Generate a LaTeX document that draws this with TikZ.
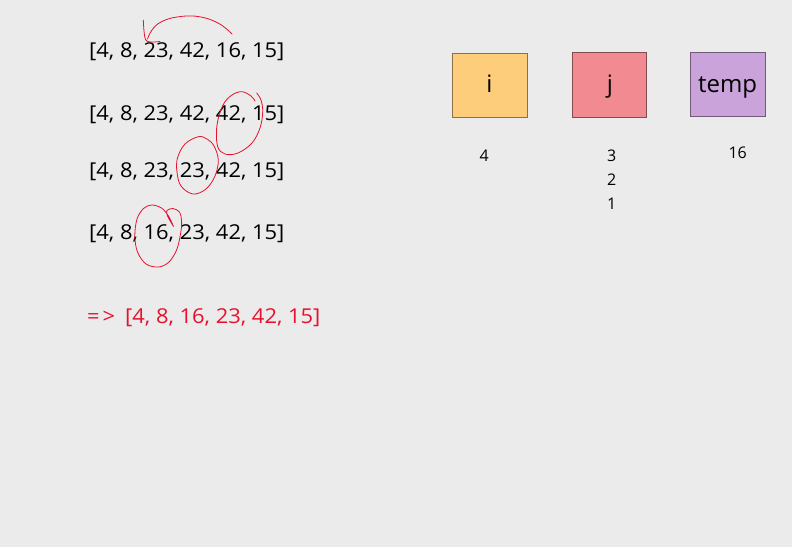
\documentclass[tikz,border=0pt]{standalone}
\usepackage{fontspec}
\setmainfont{Open Sans}
\newfontfamily\arrfont[FakeStretch=1.07]{Open Sans}
\definecolor{bg}{HTML}{EBEBEB}
\definecolor{mark}{HTML}{E8112D}
\definecolor{ifill}{HTML}{FDCD7C}
\definecolor{jfill}{HTML}{F28A92}
\definecolor{tfill}{HTML}{C9A3D9}
\tikzset{
  arr/.style={anchor=base west, inner sep=0pt, font=\arrfont\fontsize{20.5}{24}\selectfont},
  var/.style={draw=#1!55!black, fill=#1, line width=0.6pt},
  lbl/.style={anchor=base, inner sep=0pt, font=\fontsize{24}{28}\selectfont},
  val/.style={anchor=base, inner sep=0pt, font=\fontsize{16}{19}\selectfont},
  pen/.style={draw=mark, line width=0.8pt, line cap=round, line join=round}
}
\begin{document}
\begin{tikzpicture}[x=1pt,y=-1pt]
\fill[bg] (0,0) rectangle (792,547);
\useasboundingbox (0,0) rectangle (792,547);

% arrays
\node[arr] (a1) at (89,57) {[4, 8, 23, 42, 16, 15]};
\node[arr] (a2) at (89,120) {[4, 8, 23, 42, 42, 15]};
\node[arr] (a3) at (89,177) {[4, 8, 23, 23, 42, 15]};
\node[arr] (a4) at (89,239) {[4, 8, 16, 23, 42, 15]};
\node[arr, text=mark] (res) at (87,323) {=\kern3pt>};
\node[arr, text=mark] (res2) at (125,323) {[4, 8, 16, 23, 42, 15]};

% variable boxes
\path[var=ifill] (452.7,53.3) rectangle (527.3,117.7);
\path[var=jfill] (572.3,52.7) rectangle (646.7,117.3);
\path[var=tfill] (690.3,52) rectangle (765,116.3);
\node[lbl] (li) at (489.5,92) {i};
\node[lbl] (lj) at (610,92) {j};
\node[lbl] (lt) at (727.6,92) {temp};

% values
\node[val] (v4) at (484.3,161.7) {4};
\node[val] (v3) at (611.7,161.7) {3};
\node[val] (v2) at (611.7,185.7) {2};
\node[val] (v1) at (611.7,209.3) {1};
\node[val] (v16) at (737.7,158.3) {16};

% red hand strokes
\draw[pen] plot[smooth, tension=0.7] coordinates {(232,34) (218,23) (198,16.5) (177,17) (161,22) (152,30) (147.5,39)};
\draw[pen] plot[smooth, tension=0.6] coordinates {(143.3,20) (144,31) (145.5,39.5) (150,42) (160,41.5)};

\draw[pen] plot[smooth, tension=0.6] coordinates {(256.7,93) (261,100) (262.7,112) (260,128) (252,143) (238,153) (225,154) (217.5,146) (217,125) (223,105) (232,95) (242,91.7) (251,96) (255,101)};

\draw[pen] plot[smooth cycle, tension=0.6] coordinates {(198.3,136.7) (185,144) (177.5,158) (177,172) (181,186) (193,194) (206,189) (215,176) (218.3,160) (214,146) (207,139)};

\draw[pen] plot[smooth, tension=0.55] coordinates {(173.5,226.5) (167.5,216) (167,210.5) (173,208.5) (179.5,212) (181.5,220) (181,231) (177,249) (169,262) (158.5,267) (146,264) (137.5,252) (134.8,236) (137,219) (143.5,208.5) (151.7,205) (161.5,208) (168.5,216) (173.5,226.5)};
\end{tikzpicture}
\end{document}
